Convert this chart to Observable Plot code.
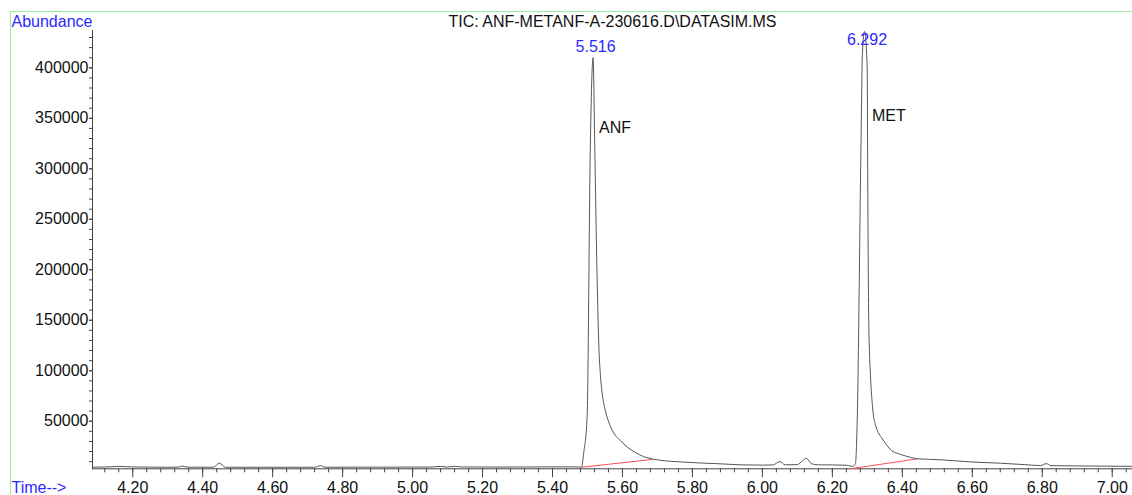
<!DOCTYPE html>
<html><head><meta charset="utf-8">
<script src="https://cdn.jsdelivr.net/npm/d3@7"></script>
<script src="https://cdn.jsdelivr.net/npm/@observablehq/plot@0.6"></script>
<style>
html,body{margin:0;padding:0;background:#fff;}
#wrap{position:relative;width:1132px;height:495px;overflow:hidden;}
#box{position:absolute;left:10px;top:11px;width:2000px;height:2000px;border-top:1px solid #9bef9b;border-left:1px solid #9bef9b;}
#chart{position:absolute;left:0;top:0;}
</style></head><body><div id="wrap"><div id="box"></div><div id="chart"></div></div>
<script>
const title = "TIC: ANF-METANF-A-230616.D\\DATASIM.MS";
const yLabel = "Abundance";
const xLabel = "Time-->";

const time = [
  4.085, 4.12, 4.16, 4.20, 4.25, 4.30, 4.33, 4.342, 4.355, 4.43, 4.448, 4.465,
  4.55, 4.65, 4.72, 4.737, 4.75, 4.85, 4.95, 5.05, 5.08, 5.10, 5.12, 5.14, 5.25,
  5.35, 5.45, 5.483,
  5.489, 5.499, 5.508, 5.516, 5.521, 5.527, 5.533, 5.537, 5.543, 5.551, 5.561, 5.571, 5.582, 5.594,
  5.615, 5.637, 5.66, 5.686, 5.72, 5.76, 5.823, 5.88, 5.94, 6.00, 6.03, 6.05, 6.065, 6.10,
  6.115, 6.125, 6.14, 6.16, 6.20, 6.24, 6.252, 6.257,
  6.266, 6.271, 6.282, 6.286, 6.292, 6.2996, 6.301, 6.304, 6.309, 6.313, 6.317, 6.323, 6.331, 6.341,
  6.355, 6.369, 6.388, 6.408, 6.444, 6.51, 6.60, 6.68, 6.75, 6.795, 6.812, 6.825, 6.90, 6.98, 7.058
];
const abundance = [
  4500, 4600, 5200, 4700, 4500, 4400, 4500, 5600, 4500, 4400, 8400, 4400,
  4400, 4400, 4400, 6000, 4400, 4500, 4500, 4600, 5200, 4600, 5300, 4700, 4600,
  4700, 4800, 4600,
  18000, 55000, 320000, 410000, 318000, 200000, 120000, 95500, 75000, 60600, 49000, 40800, 35000, 30900,
  24000, 19000, 15000, 12600, 10800, 9800, 8600, 7800, 6800, 6500, 6700, 10000, 6800, 7000,
  11000, 13400, 8000, 6800, 6700, 6400, 5500, 5200,
  8000, 50000, 328000, 415000, 436000, 400000, 300000, 150000, 95000, 72000, 57000, 46500, 39000, 33500,
  26500, 21000, 18000, 15700, 12800, 11800, 9600, 8400, 7000, 6100, 8000, 6000, 5700, 5500, 5300
];

const peakNames = ["ANF", "MET"];
const peakTimes = [5.516, 6.292];
const peakHeights = [410000, 436000];

const baseStartTime = [5.483, 6.252];
const baseStartAbund = [4450, 2900];
const baseEndTime = [5.686, 6.444];
const baseEndAbund = [12100, 12800];

const xTicks = [4.2, 4.4, 4.6, 4.8, 5.0, 5.2, 5.4, 5.6, 5.8, 6.0, 6.2, 6.4, 6.6, 6.8, 7.0];
const yTicks = [50000, 100000, 150000, 200000, 250000, 300000, 350000, 400000];
const xMinor = d3.range(103, 177).map(i => +(i * 0.04).toFixed(2));
const yMinor = d3.range(1, 44).map(i => i * 10000);

const blue = "#2a2aff";
const peaks = peakNames.map((n, i) => ({name: n, t: peakTimes[i], h: peakHeights[i]}));
const baselines = baseStartTime.map((t, i) => ({x1: t, y1: baseStartAbund[i], x2: baseEndTime[i], y2: baseEndAbund[i]}));

const chart = Plot.plot({
  width: 1132,
  height: 495,
  marginLeft: 92,
  marginRight: 0,
  marginTop: 30,
  marginBottom: 26.7,
  x: {domain: [4.085, 7.058]},
  y: {domain: [2870, 436960]},
  style: {fontFamily: "'Liberation Sans', Arial, sans-serif", fontSize: "16px", color: "#111", background: "transparent", overflow: "visible"},
  marks: [
    Plot.axisX(xMinor, {tickSize: 4, fill: "none", label: null, stroke: "#444"}),
    Plot.axisX(xTicks, {tickSize: 9, tickPadding: 4, tickFormat: d3.format(".2f"), label: null, stroke: "#444", fill: "#111"}),
    Plot.axisY(yMinor, {tickSize: 3, fill: "none", label: null, stroke: "#444"}),
    Plot.axisY(yTicks, {tickSize: 3, tickPadding: 1, tickFormat: d3.format("d"), label: null, stroke: "#444", fill: "#111"}),
    Plot.frame({anchor: "left", stroke: "#444"}),
    Plot.frame({anchor: "bottom", stroke: "#444"}),
    Plot.link(baselines, {x1: "x1", y1: "y1", x2: "x2", y2: "y2", stroke: "#ff4d4d", strokeWidth: 1}),
    Plot.line(abundance, {x: time, y: abundance, stroke: "#555", strokeWidth: 1, curve: "monotone-x"}),
    Plot.text(peaks.slice(0, 1), {x: "t", y: "h", text: d => d.t.toFixed(3), fill: blue, lineAnchor: "bottom", dx: 2.5, dy: -6}),
    Plot.text(peaks.slice(1, 2), {x: "t", y: "h", text: d => d.t.toFixed(3), fill: blue, lineAnchor: "bottom", dx: 2.5, dy: 14}),
    Plot.text(peaks.slice(0, 1), {x: "t", y: "h", text: "name", fill: "#111", textAnchor: "start", lineAnchor: "bottom", dx: 6, dy: 75}),
    Plot.text(peaks.slice(1, 2), {x: "t", y: "h", text: "name", fill: "#111", textAnchor: "start", lineAnchor: "bottom", dx: 7.5, dy: 90}),
    Plot.text([title], {frameAnchor: "top", text: d => d, fill: "#111", lineAnchor: "bottom", dy: -3.5}),
    Plot.text([yLabel], {frameAnchor: "top-left", text: d => d, fill: blue, textAnchor: "start", lineAnchor: "bottom", dx: -81, dy: -4}),
    Plot.text([xLabel], {frameAnchor: "bottom-left", text: d => d, fill: blue, textAnchor: "start", lineAnchor: "bottom", dx: -81, dy: 24})
  ]
});
document.getElementById("chart").appendChild(chart);
</script>
</body></html>
